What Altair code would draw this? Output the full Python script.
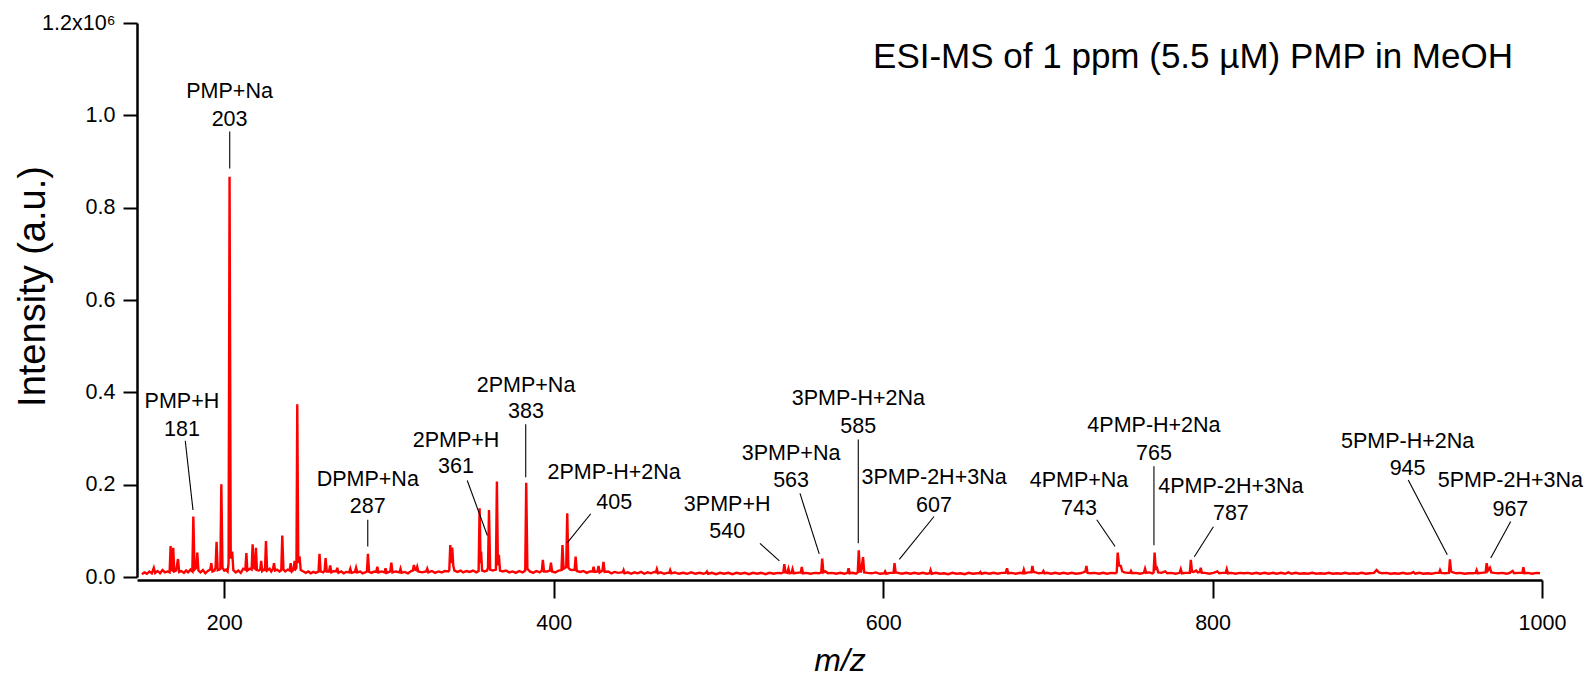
import altair as alt
import pandas as pd

# Spectrum trace vertices as (m/z, intensity in units of 1e6 counts), split by m/z range.
TRACE_150_250 = [
    (150.0, 0.006), (151.5, 0.010), (153.0, 0.007), (154.5, 0.012), (156.0, 0.008), (157.2, 0.020),
    (158.0, 0.009), (159.5, 0.013), (161.0, 0.008), (162.5, 0.015), (164.0, 0.010), (165.5, 0.012),
    (166.8, 0.010), (167.4, 0.067), (168.0, 0.015), (168.5, 0.014), (169.0, 0.063), (169.6, 0.012),
    (170.8, 0.014), (171.9, 0.039), (172.6, 0.011), (174.0, 0.013), (175.5, 0.009), (176.8, 0.014),
    (178.0, 0.010), (179.5, 0.016), (180.6, 0.012), (181.2, 0.131), (181.9, 0.016), (183.0, 0.020),
    (183.6, 0.053), (184.3, 0.014), (185.5, 0.010), (187.0, 0.015), (188.5, 0.008), (190.0, 0.013),
    (191.5, 0.016), (192.1, 0.030), (192.8, 0.012), (194.0, 0.014), (194.7, 0.020), (195.3, 0.076),
    (196.0, 0.015), (197.0, 0.016), (197.6, 0.018), (198.2, 0.201), (198.9, 0.020), (200.0, 0.014),
    (201.0, 0.016), (202.0, 0.012), (202.6, 0.030), (203.2, 0.867), (203.9, 0.040), (204.8, 0.055),
    (205.5, 0.015), (207.0, 0.010), (208.5, 0.014), (210.0, 0.009), (211.5, 0.018), (212.8, 0.016),
    (213.4, 0.052), (214.0, 0.014), (215.5, 0.018), (216.6, 0.016), (217.2, 0.071), (217.8, 0.020),
    (218.6, 0.018), (219.2, 0.063), (219.8, 0.015), (221.0, 0.014), (221.8, 0.016), (222.4, 0.035),
    (223.0, 0.013), (224.0, 0.016), (224.7, 0.015), (225.3, 0.078), (226.0, 0.014), (227.5, 0.018),
    (228.5, 0.012), (229.6, 0.018), (230.2, 0.030), (230.8, 0.014), (232.0, 0.016), (233.5, 0.012),
    (234.6, 0.015), (235.2, 0.090), (235.9, 0.016), (237.0, 0.012), (238.5, 0.016), (239.7, 0.014),
    (240.3, 0.030), (241.0, 0.012), (242.1, 0.016), (242.7, 0.035), (243.4, 0.018), (243.8, 0.020),
    (244.3, 0.374), (244.9, 0.030), (245.7, 0.045), (246.4, 0.015), (248.0, 0.012), (249.5, 0.009),
]

TRACE_250_440 = [
    (251.0, 0.012), (252.5, 0.008), (254.0, 0.011), (255.5, 0.009), (257.2, 0.012), (257.8, 0.050),
    (258.5, 0.012), (260.0, 0.010), (260.9, 0.013), (261.5, 0.041), (262.2, 0.012), (263.6, 0.012),
    (264.3, 0.025), (265.0, 0.010), (266.5, 0.013), (268.0, 0.012), (268.6, 0.020), (269.3, 0.009),
    (271.0, 0.012), (272.5, 0.008), (274.0, 0.011), (275.8, 0.010), (276.5, 0.018), (277.2, 0.009),
    (279.3, 0.011), (280.0, 0.020), (280.7, 0.010), (282.5, 0.012), (284.0, 0.008), (285.5, 0.010),
    (286.6, 0.012), (287.2, 0.050), (287.9, 0.011), (289.5, 0.009), (291.0, 0.012), (292.3, 0.011),
    (292.9, 0.022), (293.6, 0.010), (295.5, 0.012), (297.3, 0.010), (297.9, 0.019), (298.6, 0.009),
    (300.8, 0.012), (301.4, 0.031), (302.1, 0.010), (304.0, 0.012), (306.4, 0.010), (307.0, 0.018),
    (307.7, 0.009), (309.5, 0.011), (311.5, 0.008), (313.5, 0.013), (314.5, 0.014), (315.1, 0.026),
    (315.8, 0.016), (316.5, 0.015), (317.1, 0.022), (317.8, 0.012), (320.0, 0.010), (322.6, 0.012),
    (323.2, 0.018), (323.9, 0.010), (326.0, 0.013), (328.0, 0.009), (330.0, 0.012), (332.0, 0.010),
    (334.0, 0.013), (336.0, 0.012), (336.6, 0.015), (337.2, 0.069), (337.8, 0.030), (338.4, 0.064),
    (339.0, 0.025), (339.7, 0.014), (341.5, 0.011), (343.5, 0.014), (345.0, 0.010), (347.0, 0.013),
    (349.0, 0.011), (351.0, 0.014), (353.0, 0.010), (354.4, 0.013), (355.0, 0.149), (355.6, 0.030),
    (355.9, 0.055), (356.5, 0.014), (358.0, 0.012), (359.5, 0.014), (360.1, 0.020), (360.7, 0.145),
    (361.4, 0.016), (363.0, 0.014), (364.9, 0.016), (365.5, 0.207), (366.1, 0.025), (366.7, 0.048),
    (367.4, 0.014), (369.0, 0.012), (371.0, 0.014), (373.0, 0.010), (375.0, 0.012), (377.0, 0.009),
    (379.0, 0.013), (381.0, 0.010), (382.7, 0.014), (383.3, 0.204), (384.0, 0.018), (385.5, 0.012),
    (387.5, 0.009), (389.5, 0.013), (391.5, 0.010), (392.8, 0.014), (393.4, 0.037), (394.1, 0.012),
    (396.0, 0.012), (397.7, 0.014), (398.3, 0.031), (399.0, 0.012), (401.0, 0.010), (403.0, 0.014),
    (404.7, 0.015), (405.3, 0.069), (406.0, 0.018), (407.0, 0.020), (407.6, 0.022), (408.2, 0.138),
    (408.9, 0.020), (410.0, 0.016), (411.0, 0.015), (412.7, 0.016), (413.3, 0.044), (414.0, 0.013),
    (416.0, 0.011), (418.0, 0.013), (420.0, 0.009), (422.0, 0.012), (423.6, 0.012), (424.2, 0.022),
    (424.9, 0.011), (426.6, 0.012), (427.2, 0.024), (427.9, 0.010), (429.6, 0.014), (430.2, 0.033),
    (430.9, 0.011), (433.0, 0.012), (435.0, 0.008), (437.0, 0.011), (439.0, 0.009),
]

TRACE_440_700 = [
    (441.0, 0.010), (441.8, 0.010), (442.4, 0.015), (443.0, 0.008), (445.0, 0.010), (447.0, 0.007),
    (449.0, 0.010), (451.0, 0.008), (453.0, 0.011), (455.0, 0.007), (457.0, 0.010), (459.0, 0.008),
    (461.0, 0.011), (462.0, 0.010), (462.6, 0.017), (463.3, 0.008), (465.0, 0.010), (467.0, 0.007),
    (469.0, 0.009), (470.1, 0.009), (470.7, 0.015), (471.4, 0.008), (473.5, 0.010), (476.0, 0.007),
    (478.5, 0.009), (481.0, 0.007), (483.5, 0.010), (486.0, 0.007), (488.5, 0.009), (491.0, 0.007),
    (492.4, 0.009), (493.0, 0.012), (493.7, 0.007), (496.0, 0.009), (498.5, 0.006), (501.0, 0.009),
    (503.5, 0.007), (506.0, 0.009), (508.5, 0.006), (511.0, 0.009), (513.5, 0.007), (516.0, 0.009),
    (518.5, 0.006), (521.0, 0.009), (523.5, 0.007), (526.0, 0.009), (528.5, 0.006), (531.0, 0.009),
    (533.5, 0.007), (536.0, 0.009), (538.0, 0.008), (539.4, 0.010), (540.0, 0.028), (540.7, 0.010),
    (541.8, 0.009), (542.5, 0.018), (543.2, 0.008), (544.4, 0.009), (545.0, 0.017), (545.7, 0.008),
    (547.5, 0.009), (550.0, 0.010), (550.6, 0.022), (551.3, 0.008), (553.5, 0.009), (556.0, 0.007),
    (558.5, 0.009), (561.0, 0.008), (562.4, 0.010), (563.0, 0.040), (563.7, 0.010), (565.0, 0.012),
    (566.5, 0.008), (569.0, 0.009), (571.5, 0.007), (574.0, 0.009), (576.5, 0.007), (578.4, 0.009),
    (579.0, 0.019), (579.7, 0.008), (581.5, 0.009), (583.5, 0.007), (584.6, 0.010), (585.2, 0.058),
    (585.9, 0.012), (586.6, 0.012), (587.8, 0.043), (588.5, 0.010), (590.5, 0.009), (593.0, 0.008),
    (595.5, 0.010), (598.0, 0.007), (600.6, 0.008), (601.2, 0.012), (601.9, 0.007), (604.0, 0.009),
    (606.3, 0.009), (606.9, 0.030), (607.6, 0.010), (609.0, 0.009), (611.5, 0.007), (614.0, 0.009),
    (616.5, 0.007), (619.0, 0.009), (621.5, 0.007), (624.0, 0.009), (626.5, 0.007), (628.2, 0.008),
    (628.8, 0.015), (629.5, 0.007), (632.0, 0.009), (634.5, 0.007), (637.0, 0.008), (639.5, 0.006),
    (642.0, 0.009), (644.5, 0.007), (647.0, 0.008), (649.5, 0.006), (652.0, 0.009), (654.5, 0.007),
    (657.0, 0.008), (658.3, 0.008), (659.0, 0.011), (659.7, 0.007), (662.0, 0.009), (664.5, 0.007),
    (667.0, 0.009), (669.5, 0.007), (672.0, 0.009), (674.4, 0.009), (675.2, 0.019), (675.9, 0.008),
    (678.0, 0.009), (680.5, 0.007), (683.0, 0.009), (684.8, 0.008), (685.4, 0.016), (686.1, 0.008),
    (688.0, 0.010), (690.0, 0.010), (690.6, 0.024), (691.3, 0.011), (692.5, 0.010), (694.5, 0.008),
    (696.6, 0.009), (697.3, 0.013), (698.0, 0.008), (699.5, 0.009),
]

TRACE_700_1000 = [
    (702.0, 0.007), (704.5, 0.009), (707.0, 0.007), (709.5, 0.009), (712.0, 0.007), (714.5, 0.009),
    (717.0, 0.007), (719.5, 0.008), (721.5, 0.010), (722.8, 0.012), (723.4, 0.024), (724.1, 0.009),
    (726.0, 0.008), (728.5, 0.009), (731.0, 0.007), (733.5, 0.009), (736.0, 0.007), (738.5, 0.009),
    (741.0, 0.008), (741.8, 0.010), (742.4, 0.053), (743.2, 0.025), (744.3, 0.024), (745.2, 0.012),
    (746.5, 0.010), (748.5, 0.009), (750.0, 0.009), (750.5, 0.013), (751.2, 0.008), (753.5, 0.009),
    (756.0, 0.007), (758.3, 0.009), (759.0, 0.018), (759.7, 0.009), (761.5, 0.010), (763.5, 0.008),
    (764.2, 0.010), (764.8, 0.053), (765.5, 0.018), (766.2, 0.020), (767.0, 0.010), (769.0, 0.009),
    (771.2, 0.012), (772.5, 0.008), (775.0, 0.009), (777.5, 0.007), (780.0, 0.009), (780.7, 0.017),
    (781.4, 0.008), (783.5, 0.009), (786.2, 0.009), (786.8, 0.037), (787.5, 0.012), (788.5, 0.011),
    (790.0, 0.014), (791.0, 0.010), (792.2, 0.011), (792.8, 0.020), (793.5, 0.009), (795.5, 0.009),
    (798.0, 0.007), (800.5, 0.009), (802.9, 0.012), (804.0, 0.008), (806.0, 0.009), (808.0, 0.009),
    (808.6, 0.017), (809.3, 0.008), (811.5, 0.009), (814.0, 0.007), (816.5, 0.009), (819.0, 0.008),
    (821.5, 0.009), (824.0, 0.007), (826.5, 0.009), (829.0, 0.007), (831.5, 0.009), (834.0, 0.007),
    (836.5, 0.009), (839.0, 0.007), (841.5, 0.009), (844.0, 0.007), (846.0, 0.010), (848.0, 0.007),
    (850.5, 0.009), (853.0, 0.007), (855.5, 0.008), (858.0, 0.007), (860.5, 0.009), (863.0, 0.007),
    (865.5, 0.008), (868.0, 0.007), (870.5, 0.009), (873.0, 0.007), (875.5, 0.008), (878.0, 0.007),
    (880.5, 0.009), (883.0, 0.007), (885.5, 0.008), (888.0, 0.007), (890.5, 0.009), (893.0, 0.007),
    (895.5, 0.008), (898.0, 0.009), (899.6, 0.015), (901.0, 0.010), (903.0, 0.008), (905.5, 0.009),
    (908.0, 0.007), (910.5, 0.008), (913.0, 0.007), (915.5, 0.009), (918.0, 0.007), (920.5, 0.008),
    (921.9, 0.011), (923.0, 0.007), (925.5, 0.009), (928.0, 0.007), (930.5, 0.008), (933.0, 0.007),
    (935.5, 0.009), (937.5, 0.009), (938.1, 0.015), (938.8, 0.009), (941.0, 0.008), (943.5, 0.009),
    (944.1, 0.038), (944.8, 0.012), (946.0, 0.010), (948.0, 0.008), (950.5, 0.009), (953.0, 0.007),
    (955.5, 0.008), (958.0, 0.008), (959.7, 0.009), (960.3, 0.015), (961.0, 0.008), (963.0, 0.009),
    (965.8, 0.010), (966.4, 0.030), (967.2, 0.014), (968.4, 0.020), (969.2, 0.010), (971.0, 0.009),
    (973.5, 0.008), (976.0, 0.009), (978.5, 0.007), (980.5, 0.009), (982.2, 0.013), (983.0, 0.008),
    (985.5, 0.009), (988.1, 0.009), (988.7, 0.021), (989.4, 0.008), (991.5, 0.009), (994.0, 0.007),
    (996.5, 0.009), (998.8, 0.008),
]

# Peak assignments: ion name, nominal m/z text, label anchor (m/z, name line, number line)
ION_NAMES = ["PMP+H", "PMP+Na", "DPMP+Na", "2PMP+H", "2PMP+Na", "2PMP-H+2Na", "3PMP+H",
             "3PMP+Na", "3PMP-H+2Na", "3PMP-2H+3Na", "4PMP+Na", "4PMP-H+2Na", "4PMP-2H+3Na",
             "5PMP-H+2Na", "5PMP-2H+3Na"]
ION_MZ_TEXT = ["181", "203", "287", "361", "383", "405", "540", "563", "585", "607", "743",
               "765", "787", "945", "967"]
LABEL_MZ = [174.3, 203.2, 287.1, 340.7, 383.2, 436.7, 505.3, 544.1, 584.9, 630.9, 718.9,
            764.4, 811.1, 918.4, 980.8]
NAME_Y = [0.366, 1.038, 0.197, 0.282, 0.401, 0.212, 0.143, 0.253, 0.373, 0.201, 0.196,
          0.313, 0.181, 0.279, 0.194]
NUMBER_Y = [0.305, 0.977, 0.138, 0.225, 0.344, 0.147, 0.084, 0.194, 0.311, 0.141, 0.134,
            0.253, 0.124, 0.221, 0.132]
# Leader lines from each label to its peak
LEADER_MZ1 = [176.3, 203.3, 287.1, 347.5, 383.0, 422.5, 525.2, 549.5, 584.9, 630.9, 729.7,
              764.4, 800.5, 918.8, 981.0]
LEADER_Y1 = [0.295, 0.965, 0.124, 0.209, 0.331, 0.137, 0.073, 0.181, 0.298, 0.131, 0.124,
             0.240, 0.109, 0.210, 0.120]
LEADER_MZ2 = [181.0, 203.3, 287.1, 359.7, 383.0, 408.2, 537.0, 561.2, 584.9, 609.8, 740.8,
              764.4, 788.9, 942.5, 968.9]
LEADER_Y2 = [0.145, 0.885, 0.066, 0.090, 0.216, 0.074, 0.035, 0.050, 0.073, 0.038, 0.066,
             0.069, 0.044, 0.048, 0.041]

X_TICKS = [200, 400, 600, 800, 1000]
Y_TICKS = [0, 0.2, 0.4, 0.6, 0.8, 1.0, 1.2]

FONT = "Liberation Sans, Arial, sans-serif"
LABEL_SIZE = 21.5

trace = pd.DataFrame(TRACE_150_250 + TRACE_250_440 + TRACE_440_700 + TRACE_700_1000,
                     columns=["mz", "intensity"])
labels = pd.DataFrame({
    "name": ION_NAMES, "mz_text": ION_MZ_TEXT, "mz": LABEL_MZ,
    "name_y": NAME_Y, "number_y": NUMBER_Y,
    "x1": LEADER_MZ1, "y1": LEADER_Y1, "x2": LEADER_MZ2, "y2": LEADER_Y2,
})

x_scale = alt.Scale(domain=[147, 1000], nice=False, zero=False)
y_scale = alt.Scale(domain=[0, 1.2], nice=False)

x_axis = alt.Axis(
    values=X_TICKS, format="d", title="m/z", titleFontStyle="italic", titleFont=FONT,
    titleFontSize=32, titleFontWeight="normal", titleColor="black", titlePadding=12,
    labelFont=FONT, labelFontSize=LABEL_SIZE, labelColor="black", labelPadding=14,
    tickSize=18, tickWidth=2, tickColor="black", domainColor="black", domainWidth=2.5,
    offset=3, grid=False, labelFlush=False,
)
y_axis = alt.Axis(
    values=Y_TICKS,
    labelExpr="datum.value == 1.2 ? '1.2x10\u2076' : format(datum.value, '.1f')",
    title="Intensity (a.u.)", titleFont=FONT, titleFontSize=38,
    titleFontWeight="normal", titleColor="black", titleAngle=270, titleX=-104, titleY=263,
    titleAlign="center", titleBaseline="middle",
    labelFont=FONT, labelFontSize=LABEL_SIZE, labelColor="black", labelPadding=8,
    tickSize=14, tickWidth=2, tickColor="black", domainColor="black", domainWidth=2.5,
    grid=False, labelFlush=False,
)

spectrum = alt.Chart(trace).mark_line(color="#ff0000", strokeWidth=2.4).encode(
    x=alt.X("mz:Q", scale=x_scale, axis=x_axis),
    y=alt.Y("intensity:Q", scale=y_scale, axis=y_axis),
)

leaders = alt.Chart(labels).mark_rule(color="black", strokeWidth=1.1).encode(
    x=alt.X("x1:Q", scale=x_scale, axis=x_axis),
    y=alt.Y("y1:Q", scale=y_scale, axis=y_axis),
    x2="x2:Q",
    y2="y2:Q",
)

name_text = alt.Chart(labels).mark_text(
    font=FONT, fontSize=LABEL_SIZE, align="center", baseline="alphabetic", color="black"
).encode(
    x=alt.X("mz:Q", scale=x_scale, axis=x_axis),
    y=alt.Y("name_y:Q", scale=y_scale, axis=y_axis),
    text="name:N",
)

number_text = alt.Chart(labels).mark_text(
    font=FONT, fontSize=LABEL_SIZE, align="center", baseline="alphabetic", color="black"
).encode(
    x=alt.X("mz:Q", scale=x_scale, axis=x_axis),
    y=alt.Y("number_y:Q", scale=y_scale, axis=y_axis),
    text="mz_text:N",
)

chart = alt.layer(spectrum, leaders, name_text, number_text).properties(
    width=1405,
    height=554,
    padding={"left": 137, "top": 23, "right": 43, "bottom": 100},
    autosize=alt.AutoSizeParams(type="none"),
    title=alt.TitleParams(
        "ESI-MS of 1 ppm (5.5 \u00b5M) PMP in MeOH", anchor="end", frame="group",
        font=FONT, fontSize=35, fontWeight="normal", color="black",
        baseline="alphabetic", dx=-29, dy=91, offset=0,
    ),
).configure(background="white").configure_view(stroke=None)

chart.save("out.html", embed_options={"renderer": "svg", "actions": False})
